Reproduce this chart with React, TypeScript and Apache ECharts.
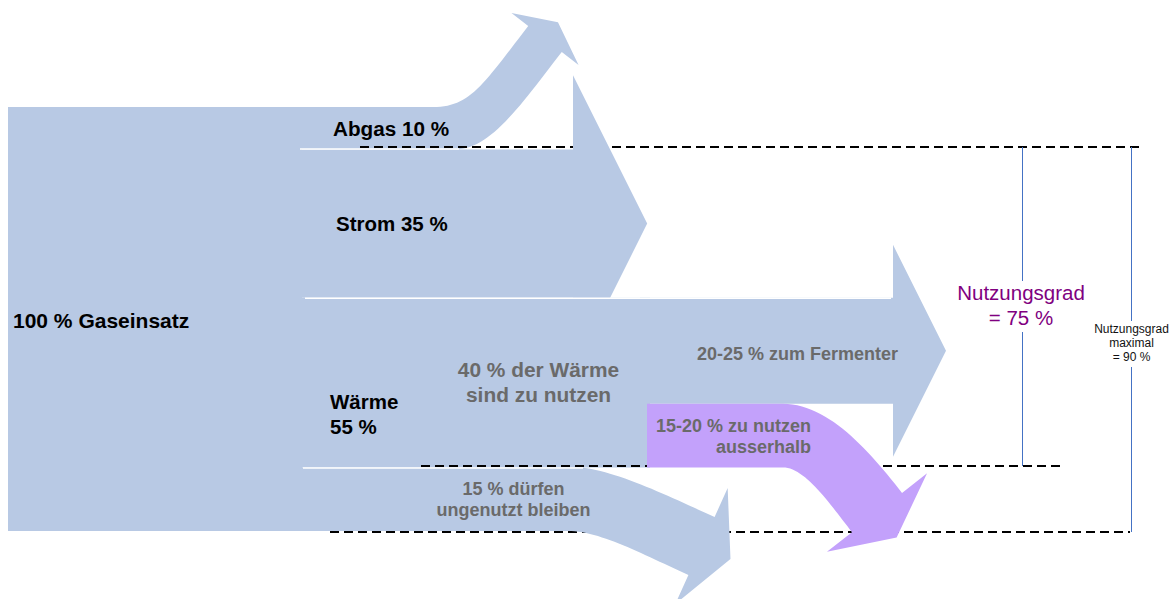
import React, { useEffect, useRef } from "react";
import * as echarts from "echarts";

// ---------------- data ----------------
const inputLabel = "Gaseinsatz";
const inputValue = 100;
const outputNames = ["Abgas", "Strom", "Wärme"];
const outputValues = [10, 35, 55];
const heatUsableValue = 40;
const heatSplitRanges = ["20-25", "15-20", "15"];
const heatSplitNames = ["zum Fermenter", "zu nutzen\nausserhalb", "dürfen\nungenutzt bleiben"];
const heatSplitValues = [25, 15, 15];
const usageLabel = "Nutzungsgrad";
const usageValue = 75;
const usageMaxValue = 90;

// ---------------- layout / style ----------------
const W = 1174;
const H = 599;
const TOP_PX = 107;
const PX_PER_PCT = 4.24;
const BLUE = "#b8c9e4";
const PURPLE = "#c3a1fb";
const GRAY = "#6a6a6a";
const FONT = "'Liberation Sans', Arial, sans-serif";

const X_LEFT = 8;
const X_SPLIT = 302;
const X_STROM_HEAD = 573;
const X_HEAT_END = 650;
const X_FERM_START = 640;
const X_FERM_HEAD = 893;
const X_EXT_START = 647;
const X_USAGE = 1022.5;
const X_USAGE_MAX = 1131.5;

const abgasCfg = { topBend: 433, botBend: 455, end: [545, -16.04], angle: -52.3, top: [37, 75], bot: [35, 70] };
const unusedCfg = { topBend: 575, botBend: 568, end: [701.5, 103.54], angle: 24.3, top: [35, 50], bot: [32, 50] };
const extCfg = { topBend: 783, botBend: 783, end: [877, 95.64], angle: 51.9, top: [45, 55], bot: [22, 35] };

type Pt = number[];

function bez(p0: Pt, p1: Pt, p2: Pt, p3: Pt, n = 28): Pt[] {
  const out: Pt[] = [];
  for (let i = 0; i <= n; i++) {
    const t = i / n;
    const u = 1 - t;
    out.push([
      u * u * u * p0[0] + 3 * u * u * t * p1[0] + 3 * u * t * t * p2[0] + t * t * t * p3[0],
      u * u * u * p0[1] + 3 * u * u * t * p1[1] + 3 * u * t * t * p2[1] + t * t * t * p3[1],
    ]);
  }
  return out;
}

export default function App() {
  const ref = useRef<HTMLDivElement>(null);

  useEffect(() => {
    document.body.style.margin = "0";
    const chart = echarts.init(ref.current as HTMLDivElement, undefined, { renderer: "svg" });

    // cumulative levels in percent
    const abgasTop = 0;
    const abgasBot = abgasTop + outputValues[0];
    const stromBot = abgasBot + outputValues[1];
    const heatTop = stromBot;
    const heatUsableBot = heatTop + heatUsableValue;
    const fermBot = heatTop + heatSplitValues[0];
    const extBot = fermBot + heatSplitValues[1];
    const unusedBot = extBot + heatSplitValues[2];
    const usageBot = abgasBot + usageValue;
    const usageMaxBot = abgasBot + usageMaxValue;

    const shapes = [
      "abgas",
      "heat",
      "main",
      "dashes",
      "strom",
      "ferm",
      "unused",
      "ext",
      "separators",
      "verticals",
    ];

    const renderItem = (params: any, api: any) => {
      const P = (x: number, p: number): Pt => api.coord([x, p]);
      const kind = shapes[params.dataIndex];

      const curved = (xStart: number, pTop: number, pBot: number, cfg: any, fill: string, z2: number) => {
        const a = P(xStart, pTop);
        const b = P(xStart, pBot);
        const yTop = a[1];
        const yBot = b[1];
        const w = yBot - yTop;
        const C = P(cfg.end[0], cfg.end[1]);
        const ang = (cfg.angle * Math.PI) / 180;
        const d = [Math.cos(ang), Math.sin(ang)];
        const n = [d[1], -d[0]];
        const nTop = [C[0] + (n[0] * w) / 2, C[1] + (n[1] * w) / 2];
        const nBot = [C[0] - (n[0] * w) / 2, C[1] - (n[1] * w) / 2];
        const barb1 = [C[0] + n[0] * w, C[1] + n[1] * w];
        const barb2 = [C[0] - n[0] * w, C[1] - n[1] * w];
        const tip = [C[0] + (d[0] * w) / 2, C[1] + (d[1] * w) / 2];
        const tb = P(cfg.topBend, pTop);
        const bb = P(cfg.botBend, pBot);
        const top = bez(tb, [tb[0] + cfg.top[0], yTop], [nTop[0] - d[0] * cfg.top[1], nTop[1] - d[1] * cfg.top[1]], nTop);
        const bot = bez(bb, [bb[0] + cfg.bot[0], yBot], [nBot[0] - d[0] * cfg.bot[1], nBot[1] - d[1] * cfg.bot[1]], nBot);
        const pts = [a, ...top, barb1, tip, barb2, ...bot.reverse(), b];
        return { type: "polygon", z2, shape: { points: pts }, style: { fill } };
      };

      const straight = (x0: number, xHead: number, pTop: number, pBot: number, fill: string, z2: number) => {
        const a = P(x0, pTop);
        const b = P(xHead, pTop);
        const c = P(xHead, pBot);
        const e = P(x0, pBot);
        const w = c[1] - b[1];
        const cy = (b[1] + c[1]) / 2;
        const pts = [a, b, [b[0], cy - w], [b[0] + w / 2, cy], [b[0], cy + w], c, e];
        return { type: "polygon", z2, shape: { points: pts }, style: { fill } };
      };

      const rect = (x0: number, x1: number, p0: number, p1: number, fill: string, z2: number) => {
        const a = P(x0, p0);
        const b = P(x1, p1);
        return { type: "rect", z2, shape: { x: a[0], y: a[1], width: b[0] - a[0], height: b[1] - a[1] }, style: { fill } };
      };

      const hline = (x0: number, x1: number, p: number, dy: number, style: any, z2: number) => {
        const a = P(x0, p);
        const b = P(x1, p);
        return { type: "line", z2, shape: { x1: a[0], y1: a[1] + dy, x2: b[0], y2: b[1] + dy }, style };
      };

      const dash = { stroke: "#000", lineWidth: 2.2, lineDash: [9, 5] };
      const white = { stroke: "#fff", lineWidth: 1.5 };
      const vstyle = { stroke: "#4472c4", lineWidth: 1 };

      switch (kind) {
        case "abgas":
          return curved(X_LEFT, abgasTop, abgasBot, abgasCfg, BLUE, 1);
        case "heat":
          return rect(X_LEFT, X_HEAT_END, heatTop, heatUsableBot, BLUE, 2);
        case "main":
          return rect(X_LEFT, X_SPLIT, 0, inputValue, BLUE, 3);
        case "dashes":
          return {
            type: "group",
            children: [
              hline(360, 1140, abgasBot, -2.4, dash, 4),
              hline(421, 1060, usageBot, -1.4, dash, 4),
              hline(330, 1130, usageMaxBot, 1, dash, 4),
            ],
          };
        case "strom":
          return straight(X_LEFT, X_STROM_HEAD, abgasBot, stromBot, BLUE, 5);
        case "ferm":
          return straight(X_FERM_START, X_FERM_HEAD, heatTop, fermBot, BLUE, 6);
        case "unused":
          return curved(X_LEFT, extBot, unusedBot, unusedCfg, BLUE, 7);
        case "ext":
          return curved(X_EXT_START, fermBot, extBot, extCfg, PURPLE, 8);
        case "separators":
          return {
            type: "group",
            children: [
              hline(300, abgasCfg.botBend + 4, abgasBot, -0.5, white, 9),
              hline(305, X_FERM_HEAD - 2, heatTop, 0.5, white, 9),
              hline(303, unusedCfg.topBend + 8, heatUsableBot, 0.6, white, 9),
            ],
          };
        case "verticals": {
          const t = P(X_USAGE, abgasBot);
          const m = P(X_USAGE, usageBot);
          const bm = P(X_USAGE_MAX, usageMaxBot);
          const xa = P(X_USAGE, 0)[0];
          const xb = P(X_USAGE_MAX, 0)[0];
          const yT = t[1] - 2.4;
          const yM = m[1] - 1.4;
          const yB = bm[1] + 1;
          return {
            type: "group",
            children: [
              { type: "line", z2: 10, shape: { x1: xa, y1: yT, x2: xa, y2: 281 }, style: vstyle },
              { type: "line", z2: 10, shape: { x1: xa, y1: 332, x2: xa, y2: yM }, style: vstyle },
              { type: "line", z2: 10, shape: { x1: xb, y1: yT, x2: xb, y2: 321 }, style: vstyle },
              { type: "line", z2: 10, shape: { x1: xb, y1: 367, x2: xb, y2: yB }, style: vstyle },
            ],
          };
        }
      }
      return null;
    };

    const txt = (
      text: string,
      x: number,
      y: number,
      align: string,
      size: number,
      weight: string,
      fill: string,
      lineHeight?: number
    ) => ({
      type: "text",
      z: 100,
      x,
      y,
      style: {
        text,
        fill,
        fontSize: size,
        fontWeight: weight,
        fontFamily: FONT,
        align,
        textAlign: align,
        verticalAlign: "middle",
        textVerticalAlign: "middle",
        lineHeight: lineHeight || size * 1.2,
      },
    });

    const option: any = {
      animation: false,
      grid: { left: 0, right: 0, top: 0, bottom: 0, containLabel: false },
      xAxis: { type: "value", min: 0, max: W, show: false },
      yAxis: {
        type: "value",
        min: -TOP_PX / PX_PER_PCT,
        max: (H - TOP_PX) / PX_PER_PCT,
        inverse: true,
        show: false,
      },
      series: [
        {
          type: "custom",
          clip: false,
          silent: true,
          renderItem,
          data: shapes.map((_, i) => [i, 0]),
        },
      ],
      graphic: [
        txt(`${inputValue} % ${inputLabel}`, 13, 320.7, "left", 21, "bold", "#000"),
        txt(`${outputNames[0]} ${outputValues[0]} %`, 333, 128.8, "left", 20.7, "bold", "#000"),
        txt(`${outputNames[1]} ${outputValues[1]} %`, 336, 223.6, "left", 20.5, "bold", "#000"),
        txt(`${outputNames[2]}\n${outputValues[2]} %`, 330, 413.7, "left", 20.5, "bold", "#000", 25),
        txt(`${heatUsableValue} % der Wärme\nsind zu nutzen`, 538.5, 382.3, "center", 20.9, "bold", GRAY, 25),
        txt(`${heatSplitRanges[0]} % ${heatSplitNames[0]}`, 697, 353.8, "left", 18, "bold", GRAY),
        txt(`${heatSplitRanges[1]} % ${heatSplitNames[1]}`, 811, 436.3, "right", 18, "bold", GRAY, 21.6),
        txt(`${heatSplitRanges[2]} % ${heatSplitNames[2]}`, 513.5, 499.3, "center", 18, "bold", GRAY, 21),
        txt(`${usageLabel}\n= ${usageValue} %`, 1021, 305.4, "center", 20.5, "normal", "#800080", 25),
        txt(`${usageLabel}\nmaximal\n= ${usageMaxValue} %`, 1131.5, 343.3, "center", 12, "normal", "#111", 14.2),
      ],
    };

    chart.setOption(option);
    return () => chart.dispose();
  }, []);

  return <div ref={ref} style={{ width: W, height: H }} />;
}
